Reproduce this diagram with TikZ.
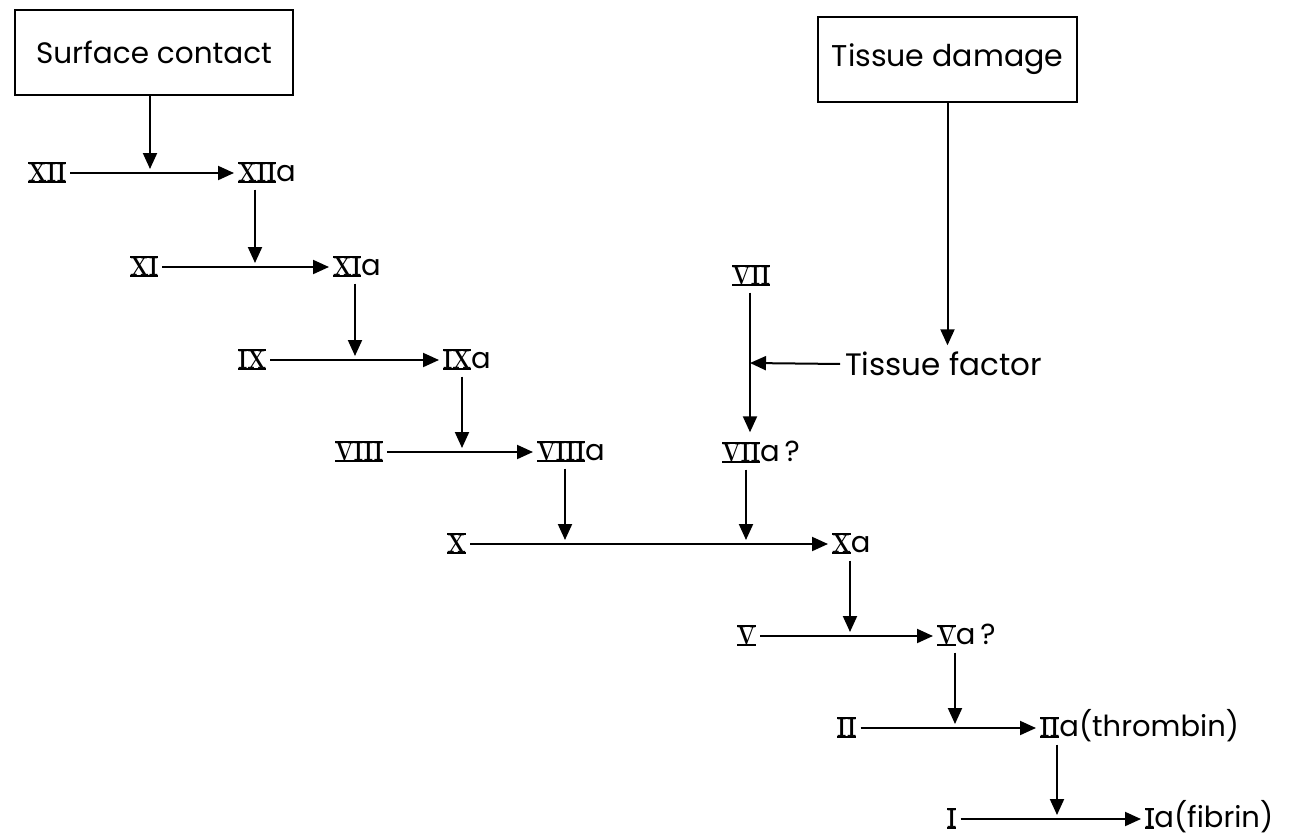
\documentclass[tikz,border=0pt]{standalone}
\usepackage{fontspec}
\usepackage{graphicx}
\newfontfamily\lab{Poppins}
\usetikzlibrary{arrows.meta,calc}
\newcommand\rmn[1]{\begingroup\fontsize{26}{26}\rmfamily\bfseries\selectfont\setbox0\hbox{\scalebox{0.85}[1]{#1}}\rlap{\rule[-1.6pt]{\wd0}{2.2pt}}\rlap{\rule[\dimexpr\ht0-0.6pt\relax]{\wd0}{2.2pt}}\box0\endgroup}
\tikzset{
  fac/.style={anchor=west, inner xsep=4pt, inner ysep=0pt, text height=18pt, text depth=1pt,
              font=\lab\fontsize{29}{31}\selectfont},
  tfac/.style={anchor=west, inner xsep=4pt, inner ysep=0pt, text height=23pt, text depth=0pt,
              font=\lab\fontsize{31}{33}\selectfont},
  srcbox/.style={draw, line width=2pt, inner sep=0pt},
  arr/.style={line width=2pt, -{Triangle[length=16pt,width=14pt]}},
}
\begin{document}
\begin{tikzpicture}[x=1pt,y=-1pt]
\useasboundingbox (0,0) rectangle (1291,838);
% source boxes
\node[srcbox, minimum width=278pt, minimum height=85pt, font=\lab\fontsize{29.5}{32}\selectfont] (SC) at (154,52.5) {Surface contact};
\node[srcbox, minimum width=259pt, minimum height=85pt, font=\lab\fontsize{30}{33}\selectfont] (TD) at (947.5,59.5) {Tissue damage};
% factors
\node[fac] (XII)  at (24,173)  {\rmn{XII}};
\node[fac] (XIIa) at (234,173) {\rmn{XII}a};
\node[fac] (XI)   at (126,267) {\rmn{XI}};
\node[fac] (XIa)  at (329,267) {\rmn{XI}a};
\node[fac] (IX)   at (234,360) {\rmn{IX}};
\node[fac] (IXa)  at (439,360) {\rmn{IX}a};
\node[fac] (VIII) at (331,452) {\rmn{VIII}};
\node[fac] (VIIIa) at (533,452) {\rmn{VIII}a};
\node[fac] (X)    at (443,544) {\rmn{X}};
\node[fac] (Xa)   at (828,544) {\rmn{X}a};
\node[fac] (V)    at (733,636) {\rmn{V}};
\node[fac] (Vaq)  at (933,636) {\rmn{V}a\,?};
\node[fac] (II)   at (833,728) {\rmn{II}};
\node[fac] (IIa)  at (1036,728) {\rmn{II}a(thrombin)};
\node[fac] (I)    at (943,819) {\rmn{I}};
\node[fac] (Ia)   at (1141,819) {\rmn{I}a(fibrin)};
\node[fac] (VII)  at (728,276) {\rmn{VII}};
\node[fac] (VIIaq) at (718,453) {\rmn{VII}a\,?};
\node[tfac] (TF)  at (841,364) {Tissue factor};
% junction points
\coordinate (j1) at (150,169);
\coordinate (j2) at (255,263);
\coordinate (j3) at (355,356);
\coordinate (j4) at (462,448);
\coordinate (j5) at (565,540);
\coordinate (j6) at (746,540);
\coordinate (j7) at (850,632);
\coordinate (j8) at (955,724);
\coordinate (j9) at (1057,815);
\coordinate (tf) at (750,363);
% horizontal conversions
\draw[arr] (XII) -- (XIIa);
\draw[arr] (XI) -- (XIa);
\draw[arr] (IX) -- (IXa);
\draw[arr] (VIII) -- (VIIIa);
\draw[arr] (X) -- (Xa);
\draw[arr] (V) -- (Vaq);
\draw[arr] (II) -- (IIa);
\draw[arr] (I) -- (Ia);
% vertical activations
\draw[arr] (SC.south -| j1) -- (j1);
\draw[arr, shorten <=7pt] (XIIa.south -| j2) -- (j2);
\draw[arr, shorten <=7pt] (XIa.south -| j3) -- (j3);
\draw[arr, shorten <=7pt] (IXa.south -| j4) -- (j4);
\draw[arr, shorten <=7pt] (VIIIa.south -| j5) -- (j5);
\draw[arr, shorten <=7pt] (VIIaq.south -| j6) -- (j6);
\draw[arr, shorten <=7pt] (Xa.south -| j7) -- (j7);
\draw[arr, shorten <=7pt] (Vaq.south -| j8) -- (j8);
\draw[arr, shorten <=7pt] (IIa.south -| j9) -- (j9);
% extrinsic branch
\draw[arr, shorten <=7pt, shorten >=11pt] (VII.south -| tf) -- (VIIaq.north -| tf);
\draw[arr, shorten >=7pt] (TD.south) -- (TD.south |- TF.north);
\draw[arr, shorten <=1pt] (TF.west) -- (tf);
\end{tikzpicture}
\end{document}
